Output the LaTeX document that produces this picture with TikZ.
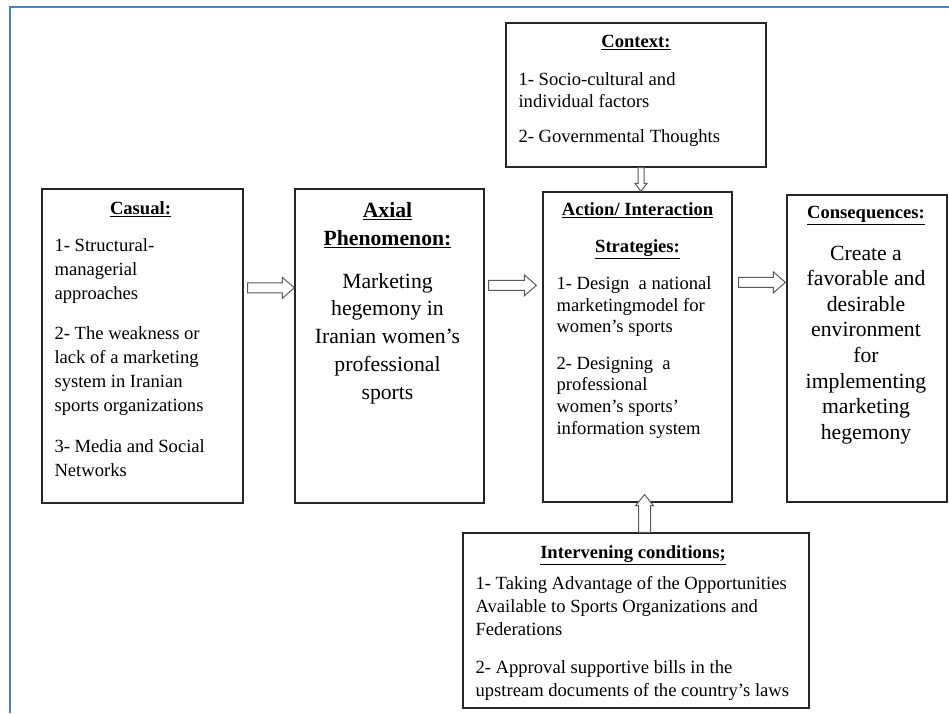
\documentclass[tikz,border=0pt]{standalone}
\usepackage{fontspec}
\setmainfont{Liberation Serif}
\usetikzlibrary{calc}

\definecolor{framebl}{RGB}{79,129,189}
\newcommand{\boxtitle}[1]{\underline{\textbf{#1}}}
\newcommand{\hollowarrow}[5]{%
	\path (#1) coordinate (ha-s) (#2) coordinate (ha-t);
	\path ($(ha-t)!#5!(ha-s)$) coordinate (ha-b);
	\draw[harrow] ($(ha-s)!#3!90:(ha-t)$) -- ($(ha-b)!#3!90:(ha-t)$) -- ($(ha-b)!#4!90:(ha-t)$) -- (ha-t) -- ($(ha-b)!#4!-90:(ha-t)$) -- ($(ha-b)!#3!-90:(ha-t)$) -- ($(ha-s)!#3!-90:(ha-t)$) -- cycle;}

\tikzset{
	box/.style={draw=black!85, line width=1.3pt, rectangle, inner sep=0pt},
	harrow/.style={draw=black!65, line width=1pt, fill=white, line join=miter},
	txt/.style={inner sep=0pt, font=\fontsize{18.6}{23.3}\selectfont},
	big/.style={inner sep=0pt, font=\fontsize{21.7}{27.8}\selectfont},
}

\begin{document}
\begin{tikzpicture}[x=1pt, y=-1pt]
	\useasboundingbox (0,0) rectangle (949,713);
	\draw[framebl, line width=2.5pt] (10,713) -- (10,7) -- (949,7);

	\node[box, minimum width=201pt, minimum height=314pt] (casual) at (142.5,346) {};
	\node[box, minimum width=189pt, minimum height=314pt] (axial) at (389.5,346) {};
	\node[box, minimum width=189pt, minimum height=310pt] (action) at (637.5,347) {};
	\node[box, minimum width=160pt, minimum height=307pt] (conseq) at (867,348.5) {};
	\node[box, minimum width=260pt, minimum height=144pt] (context) at (636,95) {};
	\node[box, minimum width=346pt, minimum height=175pt] (interv) at (636,620.5) {};

	% anchor=base is the baseline of the last line
	\node[txt, anchor=base] (casual-t) at ($(casual.north)+(-2,26)$) {\boxtitle{Casual:}};
	\node[txt, anchor=base west, align=left, font=\fontsize{18.6}{24}\selectfont] (casual-l) at ($(casual.north west)+(13,288)$)
		{1- Structural-\\managerial\\approaches\\[16.5pt]2- The weakness or\\lack of a marketing\\system in Iranian\\sports organizations\\[16.5pt]3- Media and Social\\Networks};

	\node[big, anchor=base, align=center, font=\fontsize{21.7}{28}\selectfont] (axial-t) at ($(axial.north)+(-2,57)$)
		{\boxtitle{Axial}\\\boxtitle{Phenomenon:}};
	\node[big, anchor=base, align=center] (axial-l) at ($(axial.north)+(-2,211)$)
		{Marketing\\hegemony in\\Iranian women's\\professional\\sports};

	\node[txt, anchor=base, align=center, font=\fontsize{18.6}{21.3}\selectfont] (action-t) at ($(action.north)+(0,61)$)
		{\boxtitle{Action/ Interaction}\\[15.7pt]\boxtitle{Strategies:}};
	\node[txt, anchor=base west, align=left, font=\fontsize{18.6}{21.7}\selectfont] (action-l) at ($(action.north west)+(14,243)$)
		{1- Design~ a national\\marketingmodel for\\women’s sports\\[14.7pt]2- Designing~ a\\professional\\women’s sports’\\information system};

	\node[txt, anchor=base] (conseq-t) at ($(conseq.north)+(-1,24)$) {\boxtitle{Consequences:}};
	\node[big, anchor=base, align=center, font=\fontsize{21.7}{25.6}\selectfont] (conseq-l) at ($(conseq.north)+(-1,245)$)
		{Create a\\favorable and\\desirable\\environment\\for\\implementing\\marketing\\hegemony};

	\node[txt, anchor=base] (context-t) at ($(context.north)+(0,25)$) {\boxtitle{Context:}};
	\node[txt, anchor=base west, align=left, font=\fontsize{18.6}{22}\selectfont] (context-l) at ($(context.north west)+(13,120)$)
		{1- Socio-cultural and\\individual factors\\[13pt]2- Governmental Thoughts};

	\node[txt, anchor=base] (interv-t) at ($(interv.north)+(-3,26)$) {\boxtitle{Intervening conditions;}};
	\node[txt, anchor=base west, align=left, font=\fontsize{18.6}{23}\selectfont] (interv-l) at ($(interv.north west)+(13,164)$)
		{1- Taking Advantage of the Opportunities\\Available to Sports Organizations and\\Federations\\[15pt]2- Approval supportive bills in the\\upstream documents of the country's laws};

	\hollowarrow{$(casual.north east)+(4,99.5)$}{$(axial.north west)+(0,99.5)$}{5pt}{10.5pt}{12pt}
	\hollowarrow{$(axial.north east)+(4,97)$}{$(action.north west)+(-6,94)$}{5pt}{10.5pt}{12pt}
	\hollowarrow{$(action.north east)+(6,91)$}{$(conseq.north west)+(-1,88)$}{5pt}{10.5pt}{12pt}
	\hollowarrow{$(context.south)+(5,0)$}{$(action.north)+(3.5,0)$}{3pt}{6pt}{8pt}
	\hollowarrow{$(interv.north)+(8.5,0)$}{$(action.south)+(7,-8)$}{6pt}{9pt}{11pt}
\end{tikzpicture}
\end{document}
